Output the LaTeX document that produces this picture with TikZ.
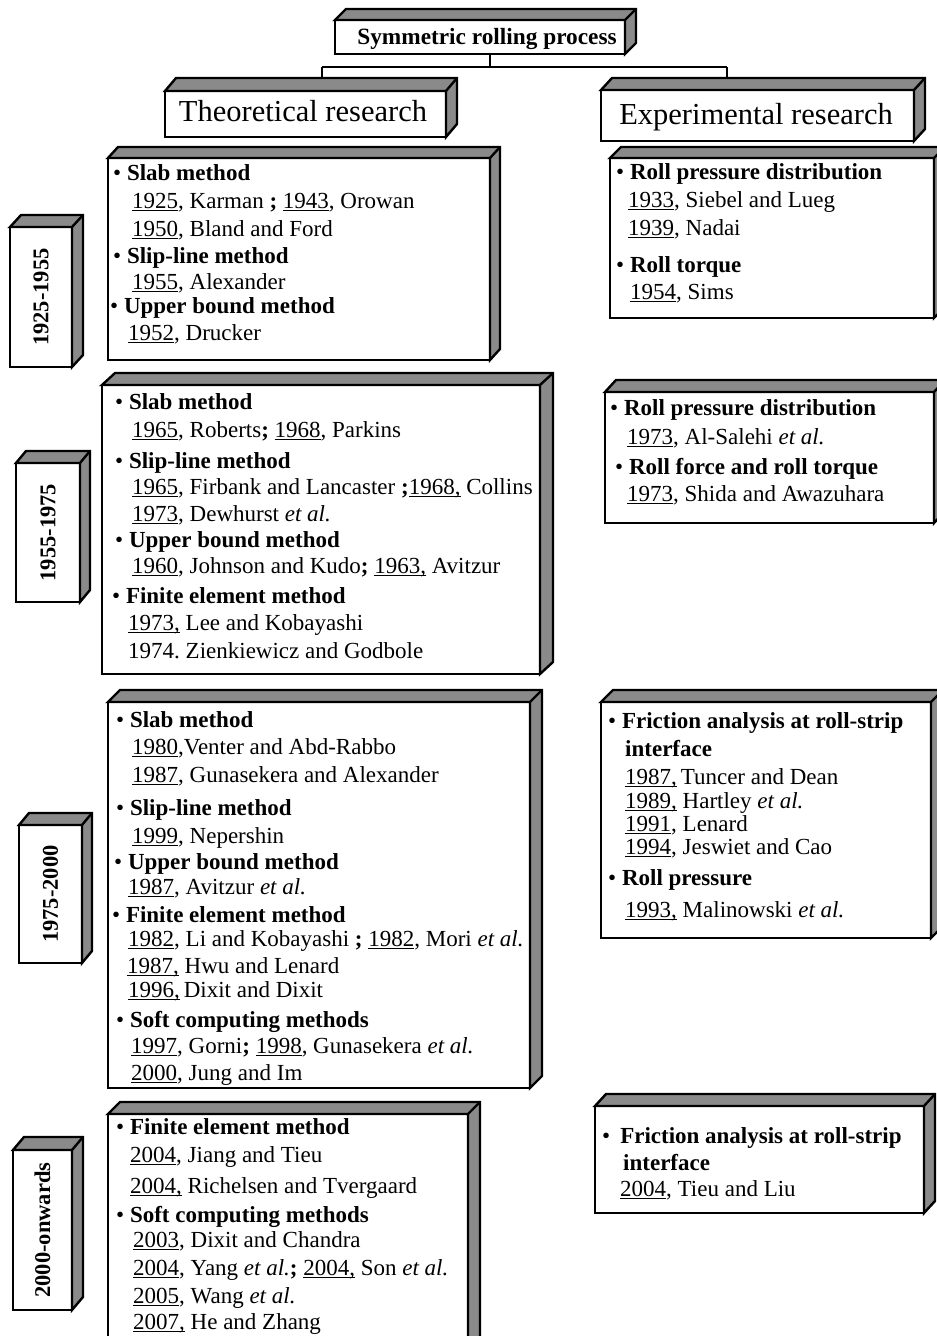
\documentclass[tikz,border=0pt]{standalone}
\usepackage{fontspec}
\setmainfont{Liberation Serif}
\definecolor{sidegray}{RGB}{138,138,138}

% underlined year
\newcommand\yr[1]{\setbox0\hbox{#1}\rlap{\rule[-2.8pt]{\wd0}{1pt}}\box0\relax}
\newcommand\etal{\textit{et al.}}
\newcommand\semi{\textbf{;}}
\newcommand\head[1]{\textbullet~\textbf{#1}}

\tikzset{
  front/.style={draw=black, line width=2.4pt, fill=white, inner sep=0pt,
    outer sep=0pt, anchor=north west},
  face/.style={fill=sidegray, draw=black, line width=2.4pt, line join=miter},
  link/.style={draw=black, line width=1.8pt},
  entry/.style={anchor=base west, inner sep=0pt,
    font=\fontsize{23}{27}\selectfont},
  yearlabel/.style={rotate=90, inner sep=0pt,
    font=\fontsize{22.5}{27}\selectfont\bfseries},
  heading/.style={anchor=base, inner sep=0pt,
    font=\fontsize{30.5}{36}\selectfont},
}

% a box with a grey top and right face:
% name, left, top, right, bottom, depth x, depth y
\newcommand\cuboid[7]{%
  \node[front, minimum width=#4-#2, minimum height=#5-#3] (#1) at (#2,#3) {};
  \path[face] (#1.north west) -- ++(#6,-#7)
    -- ([shift={(#6,-#7)}]#1.north east)
    -- ([shift={(#6,-#7)}]#1.south east)
    -- (#1.south east) -- (#1.north east) -- cycle;
  \draw[face] (#1.north east) -- ++(#6,-#7);
  \coordinate (#1-back) at ([shift={(#6,-#7)}]#1.north);
}
% one line of text, placed at its baseline
\newcommand\ent[4]{\node[entry] (#1) at (#2,#3) {#4};}

\begin{document}
\begin{tikzpicture}[x=1pt,y=-1pt]
\useasboundingbox[fill=white] (0,0) rectangle (937,1336);

% ---------- header ----------
\cuboid{top}{335}{20}{625}{54}{11}{11}
\node[heading, font=\fontsize{23.3}{27}\selectfont\bfseries] (topT) at (487,44) {Symmetric rolling process};
\cuboid{theo}{165}{91}{446}{137}{11}{13}
\node[heading] (theoT) at (303,121) {Theoretical research};
\cuboid{expr}{601}{90}{914}{141}{11}{12}
\node[heading] (exprT) at (756,124) {Experimental research};

\coordinate (fork) at (490,67);
\coordinate (forkL) at (322,67);
\coordinate (forkR) at (727,67);
\draw[link] (fork |- top.south) -- (fork);
\draw[link] (forkL) -- (forkR);
\draw[link] (forkL) -- (forkL |- theo-back);
\draw[link] (forkR) -- (forkR |- expr-back);

% ---------- period labels ----------
\cuboid{Y1}{10}{227}{72}{367}{11}{12}
\node[yearlabel] (Y1T) at (Y1) {1925-1955};
\cuboid{Y2}{16}{463}{80}{602}{10}{12}
\node[yearlabel] (Y2T) at (Y2) {1955-1975};
\cuboid{Y3}{19}{825}{82}{963}{10}{12}
\node[yearlabel] (Y3T) at (Y3) {1975-2000};
\cuboid{Y4}{13}{1150}{72}{1310}{11}{13}
\node[yearlabel] (Y4T) at (Y4) {2000-onwards};

% ---------- theoretical research ----------
\cuboid{L1}{108}{158}{490}{360}{10}{11}
\ent{L1a}{113}{180}{\head{Slab method}}
\ent{L1b}{132}{208}{\yr{1925}, Karman \semi\ \yr{1943}, Orowan}
\ent{L1c}{132}{236}{\yr{1950}, Bland and Ford}
\ent{L1d}{113}{263}{\head{Slip-line method}}
\ent{L1e}{132}{289}{\yr{1955}, Alexander}
\ent{L1f}{110}{313}{\head{Upper bound method}}
\ent{L1g}{128}{340}{\yr{1952}, Drucker}

\cuboid{L2}{102}{385}{540}{674}{13}{12}
\ent{L2a}{115}{409}{\head{Slab method}}
\ent{L2b}{132}{437}{\yr{1965}, Roberts\semi\ \yr{1968}, Parkins}
\ent{L2c}{115}{468}{\head{Slip-line method}}
\ent{L2d}{132}{494}{\yr{1965}, Firbank and Lancaster \semi\yr{1968,} Collins}
\ent{L2e}{132}{521}{\yr{1973}, Dewhurst \etal}
\ent{L2f}{115}{547}{\head{Upper bound method}}
\ent{L2g}{132}{573}{\yr{1960}, Johnson and Kudo\semi\ \yr{1963,} Avitzur}
\ent{L2h}{112}{603}{\head{Finite element method}}
\ent{L2i}{128}{630}{\yr{1973,} Lee and Kobayashi}
\ent{L2j}{128}{658}{1974.\ Zienkiewicz and Godbole}

\cuboid{L3}{108}{702}{530}{1088}{12}{12}
\ent{L3a}{116}{727}{\head{Slab method}}
\ent{L3b}{132}{754}{\yr{1980},Venter and Abd-Rabbo}
\ent{L3c}{132}{782}{\yr{1987}, Gunasekera and Alexander}
\ent{L3d}{116}{815}{\head{Slip-line method}}
\ent{L3e}{132}{843}{\yr{1999}, Nepershin}
\ent{L3f}{114}{869}{\head{Upper bound method}}
\ent{L3g}{128}{894}{\yr{1987}, Avitzur \etal}
\ent{L3h}{112}{922}{\head{Finite element method}}
\ent{L3i}{128}{946}{\yr{1982}, Li and Kobayashi \semi\ \yr{1982}, Mori \etal}
\ent{L3j}{127}{973}{\yr{1987,} Hwu and Lenard}
\ent{L3k}{128}{997}{\yr{1996,}\,Dixit and Dixit}
\ent{L3l}{116}{1027}{\head{Soft computing methods}}
\ent{L3m}{131}{1053}{\yr{1997}, Gorni\semi\ \yr{1998}, Gunasekera \etal}
\ent{L3n}{131}{1080}{\yr{2000}, Jung and Im}

\cuboid{L4}{108}{1114}{468}{1360}{12}{12}
\ent{L4a}{116}{1134}{\head{Finite element method}}
\ent{L4b}{130}{1162}{\yr{2004}, Jiang and Tieu}
\ent{L4c}{130}{1193}{\yr{2004,} Richelsen and Tvergaard}
\ent{L4d}{116}{1222}{\head{Soft computing methods}}
\ent{L4e}{133}{1247}{\yr{2003}, Dixit and Chandra}
\ent{L4f}{133}{1275}{\yr{2004}, Yang \etal\semi\ \yr{2004,} Son \etal}
\ent{L4g}{133}{1303}{\yr{2005}, Wang \etal}
\ent{L4h}{133}{1329}{\yr{2007,} He and Zhang}

% ---------- experimental research ----------
\cuboid{R1}{610}{158}{934}{318}{11}{11}
\ent{R1a}{616}{179}{\head{Roll pressure distribution}}
\ent{R1b}{628}{207}{\yr{1933}, Siebel and Lueg}
\ent{R1c}{628}{235}{\yr{1939}, Nadai}
\ent{R1d}{616}{272}{\head{Roll torque}}
\ent{R1e}{630}{299}{\yr{1954}, Sims}

\cuboid{R2}{605}{392}{934}{523}{11}{12}
\ent{R2a}{610}{415}{\head{Roll pressure distribution}}
\ent{R2b}{627}{444}{\yr{1973}, Al-Salehi \etal}
\ent{R2c}{615}{474}{\head{Roll force and roll torque}}
\ent{R2d}{627}{501}{\yr{1973}, Shida and Awazuhara}

\cuboid{R3}{601}{702}{931}{938}{12}{12}
\ent{R3a}{608}{728}{\head{Friction analysis at roll-strip}}
\ent{R3b}{625}{756}{\textbf{interface}}
\ent{R3c}{625}{784}{\yr{1987,}\,Tuncer and Dean}
\ent{R3d}{625}{808}{\yr{1989,} Hartley \etal}
\ent{R3e}{625}{831}{\yr{1991}, Lenard}
\ent{R3f}{625}{854}{\yr{1994}, Jeswiet and Cao}
\ent{R3g}{608}{885}{\head{Roll pressure}}
\ent{R3h}{625}{917}{\yr{1993,} Malinowski \etal}

\cuboid{R4}{595}{1106}{924}{1213}{11}{12}
\ent{R4a}{602}{1143}{\textbullet\hspace{10pt}\textbf{Friction analysis at roll-strip}}
\ent{R4b}{623}{1170}{\textbf{interface}}
\ent{R4c}{620}{1196}{\yr{2004}, Tieu and Liu}
\end{tikzpicture}
\end{document}
